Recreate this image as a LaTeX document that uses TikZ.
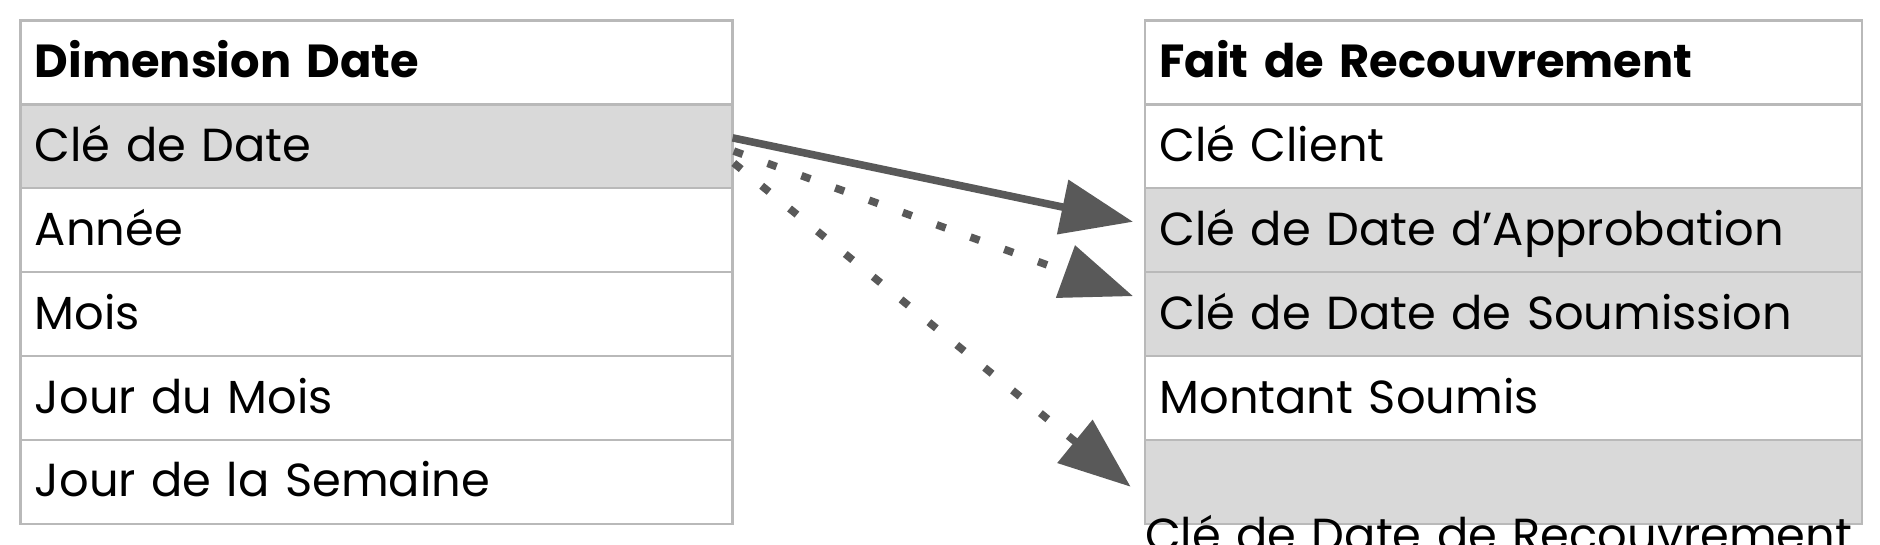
\documentclass[tikz,border=0pt]{standalone}
\usepackage{fontspec}
\setmainfont{Poppins}
\usetikzlibrary{positioning,arrows.meta}

\tikzset{
  cell/.style={draw=gray!55, line width=0.6pt, minimum height=0.7cm, inner sep=0pt, outer sep=0pt,
    text height=0.3cm, text depth=0.05cm, anchor=north west, align=left, text width=#1,
    font=\fontsize{11}{13}\selectfont},
  cell/.default=5.94cm,
  key/.style={fill=gray!30},
  head/.style={font=\fontsize{11}{13}\selectfont\bfseries},
  link/.style={draw=black!65, line width=1.8pt, -{Triangle[length=0.6cm,width=0.45cm]}},
  dots/.style={link, dash pattern=on 0.08cm off 0.22cm}
}

\begin{document}
\begin{tikzpicture}
  \useasboundingbox (0,0) rectangle (15.68,4.54);

  % left table
  \node[cell, head] (dim) at (0.17,4.37) {\hspace{0.12cm}Dimension Date};
  \node[cell, key, below=0pt of dim.south west, anchor=north west] (dkey) {\hspace{0.12cm}Clé de Date};
  \node[cell, below=0pt of dkey.south west, anchor=north west] (annee) {\hspace{0.12cm}Année};
  \node[cell, below=0pt of annee.south west, anchor=north west] (mois) {\hspace{0.12cm}Mois};
  \node[cell, below=0pt of mois.south west, anchor=north west] (jmois) {\hspace{0.12cm}Jour du Mois};
  \node[cell, below=0pt of jmois.south west, anchor=north west] (jsem) {\hspace{0.12cm}Jour de la Semaine};

  % right table
  \node[cell=5.98cm, head] (fait) at (9.55,4.37) {\hspace{0.12cm}Fait de Recouvrement};
  \node[cell=5.98cm, below=0pt of fait.south west, anchor=north west] (client) {\hspace{0.12cm}Clé Client};
  \node[cell=5.98cm, key, below=0pt of client.south west, anchor=north west] (appro) {\hspace{0.12cm}Clé de Date d’Approbation};
  \node[cell=5.98cm, key, below=0pt of appro.south west, anchor=north west] (soum) {\hspace{0.12cm}Clé de Date de Soumission};
  \node[cell=5.98cm, below=0pt of soum.south west, anchor=north west] (montant) {\hspace{0.12cm}Montant Soumis};
  \node[cell=5.98cm, key, below=0pt of montant.south west, anchor=north west] (recouv) {\hspace{0.12cm}\mbox{Clé de Date de Recouvrement}};

  % links
  \draw[link] ([yshift=0.07cm]dkey.east) -- ([xshift=-0.1cm,yshift=0.07cm]appro.west);
  \draw[dots] ([xshift=0.01cm,yshift=-0.04cm]dkey.east) -- ([xshift=-0.1cm,yshift=-0.2cm]soum.north west);
  \draw[dots] ([xshift=0.01cm,yshift=-0.14cm]dkey.east) -- ([xshift=-0.12cm,yshift=-0.04cm]recouv.west);
\end{tikzpicture}
\end{document}
